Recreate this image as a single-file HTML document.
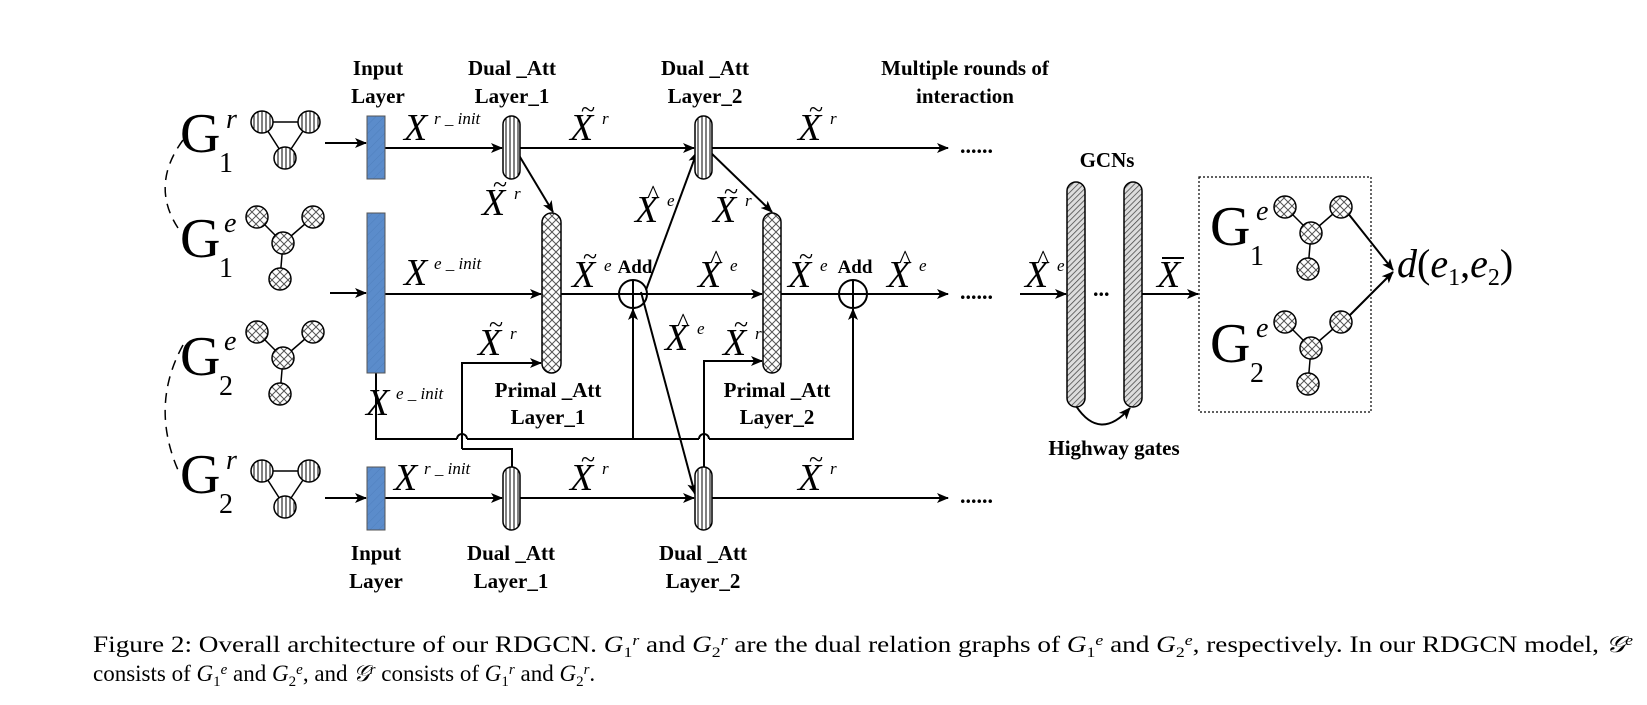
<!DOCTYPE html>
<html><head><meta charset="utf-8"><style>
html,body{margin:0;padding:0;background:#fff;}
svg{display:block;}
.b{font-family:"Liberation Serif",serif;font-weight:bold;font-size:21px;text-anchor:middle;fill:#000;}
.m{font-family:"Liberation Serif",serif;font-style:italic;font-size:38px;fill:#000;}
.s{font-family:"Liberation Serif",serif;font-style:italic;font-size:17px;fill:#000;}
.G{font-family:"Liberation Serif",serif;font-size:56px;fill:#000;}
.gs{font-family:"Liberation Serif",serif;font-size:28px;fill:#000;}
.gi{font-family:"Liberation Serif",serif;font-style:italic;font-size:28px;fill:#000;}
.cap{font-family:"Liberation Serif",serif;font-size:23px;fill:#000;}
.ac{font-family:"Liberation Serif",serif;font-size:26px;fill:#000;}
</style></head><body>
<svg width="1647" height="705" viewBox="0 0 1647 705" xmlns="http://www.w3.org/2000/svg">
<defs>
<pattern id="vs" width="4" height="4" patternUnits="userSpaceOnUse"><rect width="4" height="4" fill="#fff"/><line x1="2" y1="0" x2="2" y2="4" stroke="#000" stroke-width="1"/></pattern>
<pattern id="xh" width="8" height="8" patternUnits="userSpaceOnUse"><rect width="8" height="8" fill="#fff"/><path d="M0 0L8 8M8 0L0 8" stroke="#555" stroke-width="1"/></pattern>
<pattern id="dg" width="4" height="4" patternUnits="userSpaceOnUse" patternTransform="rotate(45)"><rect width="4" height="4" fill="#ddd"/><line x1="0" y1="0" x2="0" y2="4" stroke="#444" stroke-width="1.5"/></pattern>
<pattern id="bl" width="6" height="6" patternUnits="userSpaceOnUse" patternTransform="rotate(45)"><rect width="6" height="6" fill="#5b8ccb"/><line x1="0" y1="0" x2="0" y2="6" stroke="#4f7fbd" stroke-width="1"/></pattern>
<marker id="ar" markerWidth="12" markerHeight="10" refX="11" refY="5" orient="auto" markerUnits="userSpaceOnUse"><path d="M0 0L12 5L0 10L3 5Z" fill="#000"/></marker>
</defs>
<g stroke="#000" stroke-width="2" fill="none">
<path d="M183 140 Q150 185 178 228" stroke-dasharray="10 7" stroke-width="1.5"/>
<path d="M183 345 Q150 405 178 470" stroke-dasharray="10 7" stroke-width="1.5"/>
<line x1="325" y1="143" x2="366" y2="143" marker-end="url(#ar)"/>
<line x1="330" y1="293" x2="366" y2="293" marker-end="url(#ar)"/>
<line x1="325" y1="498" x2="366" y2="498" marker-end="url(#ar)"/>
<line x1="385" y1="148" x2="502" y2="148" marker-end="url(#ar)"/>
<line x1="520" y1="148" x2="694" y2="148" marker-end="url(#ar)"/>
<line x1="712" y1="148" x2="948" y2="148" marker-end="url(#ar)"/>
<line x1="517" y1="152" x2="553" y2="212" marker-end="url(#ar)"/>
<line x1="710" y1="152" x2="772" y2="212" marker-end="url(#ar)"/>
<line x1="385" y1="294" x2="541" y2="294" marker-end="url(#ar)"/>
<line x1="561" y1="294" x2="619" y2="294"/>
<line x1="647" y1="294" x2="762" y2="294" marker-end="url(#ar)"/>
<line x1="781" y1="294" x2="839" y2="294"/>
<line x1="867" y1="294" x2="948" y2="294" marker-end="url(#ar)"/>
<line x1="646" y1="290" x2="697" y2="152" marker-end="url(#ar)"/>
<line x1="641" y1="292" x2="695" y2="494" marker-end="url(#ar)"/>
<circle cx="633" cy="294" r="14"/><line x1="619" y1="294" x2="647" y2="294"/><line x1="633" y1="280" x2="633" y2="308"/>
<circle cx="853" cy="294" r="14"/><line x1="839" y1="294" x2="867" y2="294"/><line x1="853" y1="280" x2="853" y2="308"/>
<polyline points="376,373 376,439 457,439"/>
<path d="M457 439 A5 5 0 0 1 467 439"/>
<polyline points="467,439 699,439"/>
<path d="M699 439 A5 5 0 0 1 709 439"/>
<polyline points="709,439 853,439 853,309" marker-end="url(#ar)"/>
<line x1="633" y1="439" x2="633" y2="309" marker-end="url(#ar)"/>
<polyline points="462,449 462,363 541,363" marker-end="url(#ar)"/>
<polyline points="462,449 512,449 512,467"/>
<polyline points="704,467 704,361 762,361" marker-end="url(#ar)"/>
<line x1="385" y1="498" x2="502" y2="498" marker-end="url(#ar)"/>
<line x1="520" y1="498" x2="694" y2="498" marker-end="url(#ar)"/>
<line x1="712" y1="498" x2="948" y2="498" marker-end="url(#ar)"/>
<line x1="1020" y1="294" x2="1066" y2="294" marker-end="url(#ar)"/>
<line x1="1142" y1="294" x2="1198" y2="294" marker-end="url(#ar)"/>
<path d="M1076 406 Q1100 442 1130 408" marker-end="url(#ar)"/>
<line x1="1343" y1="207" x2="1393" y2="270" marker-end="url(#ar)"/>
<line x1="1343" y1="322" x2="1393" y2="272" marker-end="url(#ar)"/>
</g>
<rect x="1199" y="177" width="172" height="235" fill="none" stroke="#000" stroke-width="1.2" stroke-dasharray="2 2"/>
<g stroke="#555" stroke-width="1">
<rect x="367" y="116" width="18" height="63" fill="url(#bl)"/>
<rect x="367" y="213" width="18" height="160" fill="url(#bl)"/>
<rect x="367" y="467" width="18" height="63" fill="url(#bl)"/>
</g>
<g stroke="#000" stroke-width="1.5">
<rect x="503" y="116" width="17" height="63" rx="8.5" fill="url(#vs)"/>
<rect x="695" y="116" width="17" height="63" rx="8.5" fill="url(#vs)"/>
<rect x="503" y="467" width="17" height="63" rx="8.5" fill="url(#vs)"/>
<rect x="695" y="467" width="17" height="63" rx="8.5" fill="url(#vs)"/>
<rect x="542" y="213" width="19" height="160" rx="9.5" fill="url(#xh)"/>
<rect x="763" y="213" width="18" height="160" rx="9" fill="url(#xh)"/>
<rect x="1067" y="182" width="18" height="225" rx="9" fill="url(#dg)"/>
<rect x="1124" y="182" width="18" height="225" rx="9" fill="url(#dg)"/>
</g>
<g stroke="#000" stroke-width="1.5">
<line x1="262" y1="122" x2="309" y2="122"/><line x1="262" y1="122" x2="285" y2="158"/><line x1="309" y1="122" x2="285" y2="158"/>
<circle cx="262" cy="122" r="11" fill="url(#vs)"/><circle cx="309" cy="122" r="11" fill="url(#vs)"/><circle cx="285" cy="158" r="11" fill="url(#vs)"/>
<line x1="262" y1="471" x2="309" y2="471"/><line x1="262" y1="471" x2="285" y2="507"/><line x1="309" y1="471" x2="285" y2="507"/>
<circle cx="262" cy="471" r="11" fill="url(#vs)"/><circle cx="309" cy="471" r="11" fill="url(#vs)"/><circle cx="285" cy="507" r="11" fill="url(#vs)"/>
<g id="g1"><line x1="257" y1="217" x2="283" y2="243"/><line x1="313" y1="217" x2="283" y2="243"/><line x1="283" y1="243" x2="280" y2="279"/>
<circle cx="257" cy="217" r="11" fill="url(#xh)"/><circle cx="313" cy="217" r="11" fill="url(#xh)"/><circle cx="283" cy="243" r="11" fill="url(#xh)"/><circle cx="280" cy="279" r="11" fill="url(#xh)"/></g>
<use href="#g1" transform="translate(0,115)"/>
<use href="#g1" transform="translate(1028,-10)"/>
<use href="#g1" transform="translate(1028,105)"/>
</g>
<text class="G" x="180" y="152">G</text><text class="gi" x="226" y="128">r</text><text class="gs" x="219" y="172">1</text>
<text class="G" x="180" y="257">G</text><text class="gi" x="224" y="232">e</text><text class="gs" x="219" y="277">1</text>
<text class="G" x="180" y="375">G</text><text class="gi" x="224" y="350">e</text><text class="gs" x="219" y="395">2</text>
<text class="G" x="180" y="493">G</text><text class="gi" x="226" y="469">r</text><text class="gs" x="219" y="513">2</text>
<text class="G" x="1210" y="245">G</text><text class="gi" x="1256" y="220">e</text><text class="gs" x="1250" y="265">1</text>
<text class="G" x="1210" y="362">G</text><text class="gi" x="1256" y="337">e</text><text class="gs" x="1250" y="382">2</text>
<text x="1397" y="277" style="font-family:'Liberation Serif',serif;font-size:40px;font-style:italic">d<tspan font-style="normal">(</tspan>e<tspan font-size="24" dy="8" font-style="normal">1</tspan><tspan dy="-8" font-style="normal">,</tspan>e<tspan font-size="24" dy="8" font-style="normal">2</tspan><tspan dy="-8" font-style="normal">)</tspan></text>
<text class="b" x="378" y="75">Input</text><text class="b" x="378" y="103">Layer</text>
<text class="b" x="512" y="75">Dual _Att</text><text class="b" x="512" y="103">Layer_1</text>
<text class="b" x="705" y="75">Dual _Att</text><text class="b" x="705" y="103">Layer_2</text>
<text class="b" x="965" y="75">Multiple rounds of</text><text class="b" x="965" y="103">interaction</text>
<text class="b" x="1107" y="167">GCNs</text>
<text class="b" x="1114" y="455">Highway gates</text>
<text class="b" x="548" y="397">Primal _Att</text><text class="b" x="548" y="424">Layer_1</text>
<text class="b" x="777" y="397">Primal _Att</text><text class="b" x="777" y="424">Layer_2</text>
<text class="b" x="376" y="560">Input</text><text class="b" x="376" y="588">Layer</text>
<text class="b" x="511" y="560">Dual _Att</text><text class="b" x="511" y="588">Layer_1</text>
<text class="b" x="703" y="560">Dual _Att</text><text class="b" x="703" y="588">Layer_2</text>
<text class="b" x="635" y="273" style="font-size:19px">Add</text>
<text class="b" x="855" y="273" style="font-size:19px">Add</text>
<g style="font-family:'Liberation Serif',serif;font-size:22px;font-weight:bold">
<text x="960" y="153">......</text><text x="960" y="299">......</text><text x="960" y="503">......</text>
<text x="1093" y="296">...</text>
</g>
<text class="m" x="404" y="140">X</text><text class="s" x="434" y="124">r _ init</text>
<text class="m" x="404" y="285">X</text><text class="s" x="434" y="269">e _ init</text>
<text class="m" x="366" y="415">X</text><text class="s" x="396" y="399">e _ init</text>
<text class="m" x="394" y="490">X</text><text class="s" x="424" y="474">r _ init</text>
<g>
<!-- tilde labels -->
<text class="m" x="570" y="140">X</text><text class="ac" x="581" y="118">~</text><text class="s" x="602" y="124">r</text>
<text class="m" x="798" y="140">X</text><text class="ac" x="809" y="118">~</text><text class="s" x="830" y="124">r</text>
<text class="m" x="570" y="490">X</text><text class="ac" x="581" y="468">~</text><text class="s" x="602" y="474">r</text>
<text class="m" x="798" y="490">X</text><text class="ac" x="809" y="468">~</text><text class="s" x="830" y="474">r</text>
<text class="m" x="482" y="215">X</text><text class="ac" x="493" y="193">~</text><text class="s" x="514" y="199">r</text>
<text class="m" x="478" y="355">X</text><text class="ac" x="489" y="333">~</text><text class="s" x="510" y="339">r</text>
<text class="m" x="713" y="222">X</text><text class="ac" x="724" y="200">~</text><text class="s" x="745" y="206">r</text>
<text class="m" x="723" y="355">X</text><text class="ac" x="734" y="333">~</text><text class="s" x="755" y="339">r</text>
<text class="m" x="572" y="287">X</text><text class="ac" x="583" y="265">~</text><text class="s" x="604" y="271">e</text>
<text class="m" x="788" y="287">X</text><text class="ac" x="799" y="265">~</text><text class="s" x="820" y="271">e</text>
<!-- hat labels -->
<text class="m" x="635" y="222">X</text><text class="ac" x="647" y="203">^</text><text class="s" x="667" y="206">e</text>
<text class="m" x="698" y="287">X</text><text class="ac" x="710" y="268">^</text><text class="s" x="730" y="271">e</text>
<text class="m" x="665" y="350">X</text><text class="ac" x="677" y="331">^</text><text class="s" x="697" y="334">e</text>
<text class="m" x="887" y="287">X</text><text class="ac" x="899" y="268">^</text><text class="s" x="919" y="271">e</text>
<text class="m" x="1025" y="287">X</text><text class="ac" x="1037" y="268">^</text><text class="s" x="1057" y="271">e</text>
<text class="m" x="1157" y="287">X</text>
</g>
<line x1="1162" y1="258" x2="1184" y2="258" stroke="#000" stroke-width="2"/>
<text class="cap" x="93" y="652" textLength="1540" lengthAdjust="spacingAndGlyphs">Figure 2: Overall architecture of our RDGCN. <tspan font-style="italic">G</tspan><tspan font-size="15" dy="5">1</tspan><tspan font-size="15" dy="-12" font-style="italic">r</tspan><tspan dy="7"> and </tspan><tspan font-style="italic">G</tspan><tspan font-size="15" dy="5">2</tspan><tspan font-size="15" dy="-12" font-style="italic">r</tspan><tspan dy="7"> are the dual relation graphs of </tspan><tspan font-style="italic">G</tspan><tspan font-size="15" dy="5">1</tspan><tspan font-size="15" dy="-12" font-style="italic">e</tspan><tspan dy="7"> and </tspan><tspan font-style="italic">G</tspan><tspan font-size="15" dy="5">2</tspan><tspan font-size="15" dy="-12" font-style="italic">e</tspan><tspan dy="7">, respectively. In our RDGCN model, </tspan><tspan font-style="italic">𝒢</tspan><tspan font-size="15" dy="-7" font-style="italic">e</tspan></text>
<text class="cap" x="93" y="681">consists of <tspan font-style="italic">G</tspan><tspan font-size="15" dy="5">1</tspan><tspan font-size="15" dy="-12" font-style="italic">e</tspan><tspan dy="7"> and </tspan><tspan font-style="italic">G</tspan><tspan font-size="15" dy="5">2</tspan><tspan font-size="15" dy="-12" font-style="italic">e</tspan><tspan dy="7">, and </tspan><tspan font-style="italic">𝒢</tspan><tspan font-size="15" dy="-7" font-style="italic">r</tspan><tspan dy="7"> consists of </tspan><tspan font-style="italic">G</tspan><tspan font-size="15" dy="5">1</tspan><tspan font-size="15" dy="-12" font-style="italic">r</tspan><tspan dy="7"> and </tspan><tspan font-style="italic">G</tspan><tspan font-size="15" dy="5">2</tspan><tspan font-size="15" dy="-12" font-style="italic">r</tspan><tspan dy="7">.</tspan></text>
</svg>
</body></html>
